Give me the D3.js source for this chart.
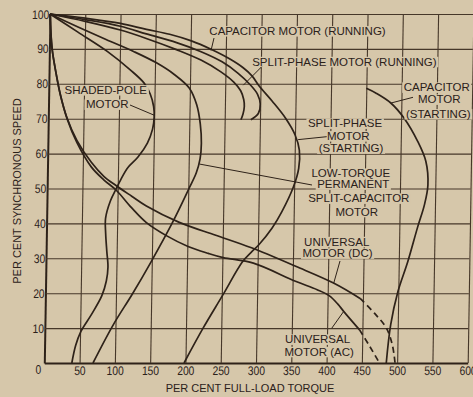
<!DOCTYPE html>
<html>
<head>
<meta charset="utf-8">
<script src="https://cdn.jsdelivr.net/npm/d3@7"></script>
<style>
  html, body { margin: 0; padding: 0; background: #d6c7aa; }
  svg { display: block; }
  text { font-family: "Liberation Sans", Arial, sans-serif; fill: #2b211a; }
</style>
</head>
<body>
<svg id="chart" width="473" height="397"></svg>
<script>
// tick values
var torqueTicks = d3.range(50, 601, 50);
var speedTicks = d3.range(10, 101, 10);

// speed-torque curves: [per cent full-load torque, per cent synchronous speed]
var capRunning = [[0,100],[50,98.4],[100,96.5],[137,94.3],[180,91.8],[215,89.2],[245,86.3],[268,83],[285,79.8],[296,77],[300,74.2],[297.5,71.5],[287,69.7]];
var splitRunning = [[0,100],[50,97.9],[100,95.4],[137,93],[180,89.8],[215,86.8],[243,83.5],[262,80.5],[272,78],[276.5,75.5],[277.5,73.5],[276,71.5],[273,69.7]];
var splitStarting = [[0,100],[50,98.8],[100,97.3],[137,95.6],[170,94.2],[201,92.3],[229,89.9],[256,87.1],[275,84.6],[288,82.2],[297.5,79.5],[317,75],[336,70.2],[350,65.4],[356.5,61],[356,55.8],[349,50.5],[333,43.3],[319.5,38.6],[301,33.8],[291.5,31.9],[278.5,29],[251.5,19.5],[224,9.9],[198,0]];
var pscLowTorque = [[0,100],[40,96.3],[80,92.7],[120,89.2],[152,86],[178,82.6],[199,78.8],[210,74],[215.5,68.5],[217.5,63],[216,58.5],[211,54.5],[201,50],[179,40.5],[149,29],[123,19.7],[97,11],[69,0]];
var shadedPole = [[0,100],[40,94.8],[82,89.3],[115,84],[135,80.2],[144,77],[149,73.5],[150,70.5],[148,67],[141,63],[128,59],[114,56],[104,52.5],[98,50],[90,46.5],[83.5,41.5],[84,37],[86,32],[88,27.5],[86,23.5],[80,19.3],[66,14],[51,9],[44,5],[39,0]];
var capStarting = [[450,78.7],[464,77.3],[485,74.5],[504,70.2],[524,63.5],[536,57.8],[539.5,51],[535,45.3],[526,39],[512.7,29],[499.4,20.4],[490,11],[484.6,0]];
var univDC = [[0,100],[1.5,95],[3.8,90],[9,84],[16.4,77],[26,70.5],[41,63.8],[62,57.5],[80,53.5],[98,50.8],[120,47.8],[141,45],[188,40.3],[240,36.6],[291,33],[354,27.7],[408,22.9],[446,18.5]];
var univDCdash = [[446,18.5],[467,14.2],[484,10],[493,5],[497,0]];
var univAC = [[0,100],[2,94],[4.5,89],[10,83],[17,76.5],[27,69.8],[41,63.2],[62,56.2],[80,52.5],[98,49.5],[120,44.5],[141,40.3],[170,36.5],[201,33.4],[230,31.4],[251,30.2],[294,28.6],[354,23.4],[385,21],[402,19.3],[415,16.8],[423,14.8],[446,9.5]];
var univACdash = [[446,9.5],[461,4.7],[475,0]];

var solidCurves = [capRunning, splitRunning, splitStarting, pscLowTorque, shadedPole, capStarting, univDC, univAC];
var dashedCurves = [univDCdash, univACdash];

// label lines: text, centre x, baseline
var labels = [
  ["CAPACITOR MOTOR (RUNNING)", 297.5, 35.1],
  ["SPLIT-PHASE MOTOR (RUNNING)", 344.4, 65.8],
  ["SHADED-POLE", 105.8, 94.1],
  ["MOTOR", 107.3, 108.4],
  ["SPLIT-PHASE", 345, 127.4],
  ["MOTOR", 348.3, 140.1],
  ["(STARTING)", 351, 152.4],
  ["LOW-TORQUE", 350.8, 177.4],
  ["PERMANENT", 353.3, 188.4],
  ["SPLIT-CAPACITOR", 358.8, 202.4],
  ["MOTOR", 356.7, 215.8],
  ["UNIVERSAL", 336.7, 245.8],
  ["MOTOR (DC)", 337.5, 257.4],
  ["UNIVERSAL", 317.5, 343.4],
  ["MOTOR (AC)", 319.2, 355.8],
  ["CAPACITOR", 436.7, 91.4],
  ["MOTOR", 439.3, 103.4],
  ["(STARTING)", 438.3, 118.1]
];

// leader lines: label end (px), curve end (torque, speed)
var leaders = [
  [[214,38],[229,89.5]],
  [[261.7,66.7],[275.6,79.6]],
  [[130,105],[150,71]],
  [[326.7,136.7],[354.5,64]],
  [[312,185],[215.5,57]],
  [[340,261],[408.2,22.8]],
  [[331.7,328.3],[422.8,14.7]],
  [[413,97.3],[485.5,74.5]]
];

var bg = "#d6c7aa";
var ink = "#2e2219";

var svg = d3.select("#chart");

var x = d3.scaleLinear().domain([0, 600]).range([44.3, 467.7]);
var y = d3.scaleLinear().domain([0, 100]).range([363, 14]);

// the scanned grid leans a little to the right at the top
var lean = 5.7 / 349;
var leanX = function(px, py) { return px - lean * (py - y(0)); };

var plot = svg.append("g")
  .attr("transform", `translate(${lean * y(0)},0) skewX(${-Math.atan(lean) * 180 / Math.PI})`);

// grid + axes
var xAxis = plot.append("g")
  .attr("transform", `translate(0,${y(0)})`)
  .call(d3.axisBottom(x).tickValues(torqueTicks).tickSize(-(y(0) - y(100))).tickPadding(3.5).tickSizeOuter(0));

var yAxis = plot.append("g")
  .attr("transform", `translate(${x(0)},0)`)
  .call(d3.axisLeft(y).tickValues(speedTicks).tickSize(-(x(600) - x(0))).tickPadding(1).tickSizeOuter(0));

[xAxis, yAxis].forEach(function(ax) {
  ax.select(".domain").attr("stroke", ink).attr("stroke-width", 2);
  ax.selectAll(".tick line").attr("stroke", "#463729").attr("stroke-width", 1.1);
  ax.selectAll(".tick text")
    .attr("fill", "#2b211a")
    .style("font-family", '"Liberation Sans", Arial, sans-serif')
    .attr("font-size", 12.5)
    .attr("transform", "scale(0.82,1)");
});

// shared origin label
svg.append("text")
  .attr("x", 38.3).attr("y", 374.5)
  .attr("text-anchor", "middle")
  .attr("font-size", 12.5)
  .attr("transform", "translate(38.3,0) scale(0.82,1) translate(-38.3,0)")
  .text("0");

// label knock-outs behind text
var labelLayer = svg.append("g");
var labelBoxes = labelLayer.selectAll("g.lab")
  .data(labels)
  .enter().append("g").attr("class", "lab");

labelBoxes.append("text")
  .attr("x", function(d) { return d[1]; })
  .attr("y", function(d) { return d[2]; })
  .attr("text-anchor", "middle")
  .attr("font-size", 11.5)
  .text(function(d) { return d[0]; });

labelBoxes.each(function() {
  var g = d3.select(this);
  var b = g.select("text").node().getBBox();
  g.insert("rect", "text")
    .attr("x", b.x - 1.5).attr("y", b.y + 1)
    .attr("width", b.width + 3).attr("height", b.height - 1.5)
    .attr("fill", bg);
});
// move text above curves later
var labelTexts = labelBoxes.selectAll("text").remove();

// curves
var line = d3.line()
  .x(function(d) { return x(d[0]); })
  .y(function(d) { return y(d[1]); })
  .curve(d3.curveCatmullRom.alpha(0.5));

plot.selectAll("path.curve")
  .data(solidCurves)
  .enter().append("path")
  .attr("class", "curve")
  .attr("d", line)
  .attr("fill", "none")
  .attr("stroke", ink)
  .attr("stroke-width", 1.7)
  .attr("stroke-linejoin", "round");

plot.selectAll("path.dash")
  .data(dashedCurves)
  .enter().append("path")
  .attr("class", "dash")
  .attr("d", line)
  .attr("fill", "none")
  .attr("stroke", ink)
  .attr("stroke-width", 1.7)
  .attr("stroke-dasharray", "6,4");

// leaders
svg.selectAll("line.leader")
  .data(leaders)
  .enter().append("line")
  .attr("x1", function(d) { return d[0][0]; })
  .attr("y1", function(d) { return d[0][1]; })
  .attr("x2", function(d) { return leanX(x(d[1][0]), y(d[1][1])); })
  .attr("y2", function(d) { return y(d[1][1]); })
  .attr("stroke", ink)
  .attr("stroke-width", 1);

// label text
svg.append("g").selectAll("text")
  .data(labels)
  .enter().append("text")
  .attr("x", function(d) { return d[1]; })
  .attr("y", function(d) { return d[2]; })
  .attr("text-anchor", "middle")
  .attr("font-size", 11.5)
  .text(function(d) { return d[0]; });

// axis titles
svg.append("text")
  .attr("x", 250).attr("y", 392.3)
  .attr("text-anchor", "middle")
  .attr("font-size", 11)
  .text("PER CENT FULL-LOAD TORQUE");

svg.append("text")
  .attr("transform", "translate(20.7,191) rotate(-90)")
  .attr("text-anchor", "middle")
  .attr("font-size", 11)
  .text("PER CENT SYNCHRONOUS SPEED");
</script>
</body>
</html>
